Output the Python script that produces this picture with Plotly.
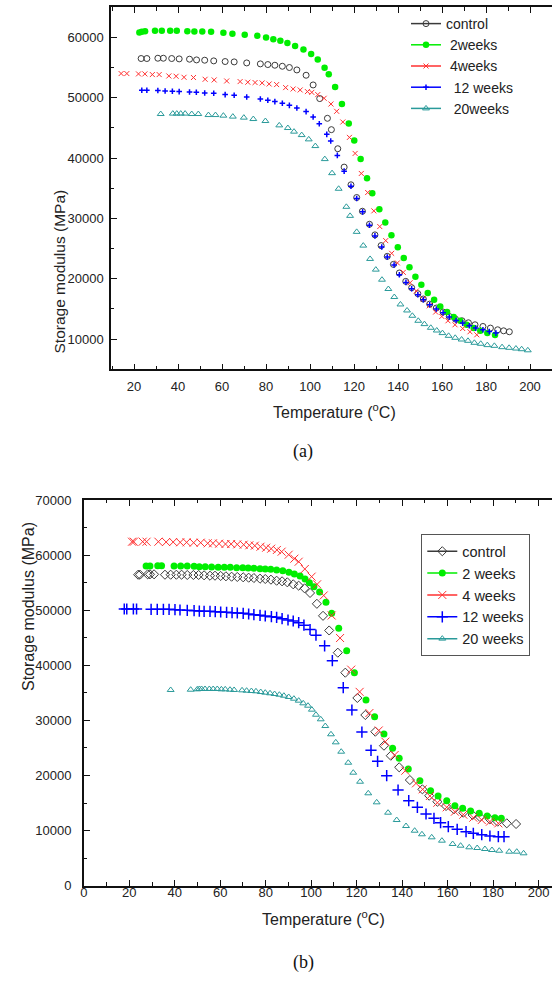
import plotly.graph_objects as go

# ---------------- Panel (a) data ----------------
a_control_T = [23.2, 25.8, 30.8, 33.3, 37.1, 40.5, 45.2, 48.4, 52.1, 56.2, 61.4, 65.5, 71.2, 77.4, 80.8, 84.0, 87.4, 90.6, 94.0, 98.2, 101.4, 104.4, 107.9, 109.7, 112.6, 115.5, 118.6, 121.2, 123.8, 127.0, 129.5, 132.3, 135.1, 137.9, 140.6, 143.5, 146.2, 149.0, 151.5, 154.4, 157.4, 160.5, 163.3, 166.1, 169.1, 172.0, 175.0, 178.6, 182.0, 185.3, 188.0, 190.6]
a_control_E = [56510, 56510, 56560, 56560, 56510, 56450, 56400, 56280, 56230, 56120, 56010, 55950, 55780, 55620, 55510, 55400, 55230, 55020, 54620, 53740, 52130, 49870, 46600, 44720, 41560, 38510, 35580, 33470, 31200, 29040, 27280, 25500, 23720, 22390, 20960, 19570, 18520, 17530, 16650, 15810, 15150, 14490, 13760, 13330, 13040, 12710, 12380, 12100, 11830, 11550, 11380, 11220]

a_w2_T = [22.4, 23.5, 25.0, 29.5, 32.6, 36.4, 39.4, 44.2, 47.4, 51.0, 55.0, 60.6, 64.7, 70.3, 76.0, 80.0, 83.3, 86.5, 89.7, 93.2, 97.0, 100.5, 103.5, 106.6, 108.5, 111.4, 114.5, 117.6, 120.1, 123.0, 125.9, 128.3, 131.5, 134.2, 137.0, 139.9, 142.6, 145.2, 147.9, 150.6, 153.5, 156.4, 159.2, 162.3, 165.3, 168.3, 171.2, 174.4, 177.4, 180.6, 184.1]
a_w2_E = [60830, 60930, 61050, 61100, 61100, 61100, 61100, 61050, 61000, 61000, 60930, 60770, 60600, 60430, 60270, 60000, 59720, 59440, 59100, 58600, 58000, 57280, 56350, 55000, 53900, 51800, 48970, 45760, 42940, 39840, 36680, 34190, 31530, 29320, 27210, 25220, 23450, 21900, 20350, 19020, 17640, 16530, 15420, 14490, 13660, 13040, 12380, 11830, 11380, 11000, 10670]

a_w4_T = [14.1, 16.7, 22.0, 24.9, 28.3, 31.4, 35.8, 39.1, 42.7, 47.0, 52.3, 56.4, 62.1, 68.2, 71.7, 75.0, 78.2, 81.4, 84.8, 88.9, 92.3, 95.5, 98.8, 100.8, 103.5, 106.4, 109.5, 112.1, 114.9, 117.9, 120.5, 123.3, 126.2, 129.0, 131.7, 134.4, 137.1, 139.7, 142.4, 145.5, 148.3, 151.4, 154.2, 157.1, 159.9, 162.7, 165.9, 169.4, 172.7, 175.8]
a_w4_E = [54020, 54020, 53960, 53960, 53850, 53850, 53620, 53570, 53400, 53360, 53070, 52960, 52790, 52690, 52580, 52530, 52460, 52290, 52190, 51690, 51460, 51300, 51030, 50900, 50530, 49920, 48970, 47760, 45990, 43440, 40780, 37460, 34300, 31260, 28660, 26330, 24220, 22630, 21070, 19350, 17970, 16650, 15530, 14490, 13760, 13040, 12380, 11760, 11220, 10720]

a_w12_T = [23.5, 25.8, 30.8, 34.1, 37.4, 40.5, 45.2, 48.3, 52.1, 56.2, 61.4, 65.5, 71.2, 77.4, 80.8, 84.0, 87.4, 90.6, 94.0, 98.2, 101.4, 104.2, 107.6, 109.4, 112.4, 115.5, 118.6, 121.2, 123.9, 127.0, 129.5, 132.6, 135.1, 138.2, 140.6, 143.6, 146.2, 149.0, 151.5, 154.4, 157.4, 160.5, 163.3, 166.4, 169.4, 172.4, 175.3, 178.6, 181.5, 184.5]
a_w12_E = [51250, 51250, 51200, 51130, 51080, 51030, 50960, 50910, 50800, 50750, 50530, 50420, 50140, 49800, 49590, 49370, 49090, 48750, 48310, 47710, 46810, 45710, 43940, 42830, 40450, 37840, 35350, 33310, 31100, 28870, 27110, 25280, 23620, 22290, 20680, 19400, 18360, 17360, 16530, 15700, 14990, 14370, 13660, 13100, 12660, 12220, 11830, 11550, 11270, 11000]

a_w20_T = [32.1, 37.6, 39.4, 41.2, 43.2, 46.2, 49.2, 53.8, 57.0, 60.6, 64.9, 69.9, 74.2, 79.7, 86.0, 89.9, 92.7, 96.2, 99.4, 102.4, 106.7, 110.0, 113.0, 116.5, 118.2, 121.2, 124.2, 127.3, 129.9, 132.7, 135.6, 138.3, 141.1, 144.1, 146.5, 149.2, 152.0, 154.9, 157.6, 160.2, 163.0, 166.0, 168.9, 171.8, 174.7, 177.6, 180.6, 183.8, 187.3, 190.5, 193.6, 196.2, 199.0]
a_w20_E = [47310, 47380, 47380, 47380, 47380, 47310, 47310, 47140, 47140, 47040, 46880, 46710, 46480, 46150, 45430, 44990, 44390, 43820, 43110, 42000, 39840, 37510, 34920, 31930, 30430, 27780, 25500, 23290, 21520, 19850, 18310, 16980, 15750, 14750, 13870, 13040, 12490, 11880, 11430, 11000, 10550, 10220, 9940, 9720, 9390, 9230, 9010, 8890, 8670, 8560, 8440, 8330, 8150]

# ---------------- Panel (b) data ----------------
b_control_T = [23.9, 24.7, 28.1, 29.1, 30.9, 35.7, 38.2, 40.7, 43.0, 45.5, 48.2, 50.5, 52.9, 55.5, 57.7, 60.2, 62.5, 65.0, 67.5, 70.1, 72.5, 74.8, 77.5, 79.8, 82.3, 84.8, 87.2, 89.5, 92.1, 94.5, 97.1, 99.5, 102.5, 105.2, 107.9, 111.7, 115.0, 120.3, 123.8, 128.2, 132.0, 135.0, 138.7, 143.4, 148.9, 151.9, 155.5, 159.3, 162.8, 166.9, 171.0, 174.2, 178.6, 182.0, 186.0, 190.1]
b_control_E = [56440, 56440, 56510, 56510, 56510, 56440, 56440, 56440, 56440, 56390, 56390, 56390, 56330, 56260, 56260, 56210, 56150, 56080, 56030, 55970, 55900, 55840, 55720, 55660, 55540, 55350, 55240, 55060, 54700, 54450, 53970, 53130, 51160, 48980, 46320, 42290, 38660, 34070, 30980, 27950, 25410, 23590, 21490, 19180, 17490, 16330, 15240, 14460, 13870, 13250, 12830, 12470, 12050, 11620, 11320, 11200]

b_w2_T = [27.4, 29.1, 32.5, 34.2, 39.7, 42.6, 45.5, 48.5, 50.8, 53.4, 56.2, 59.1, 61.8, 64.4, 67.2, 69.9, 72.3, 74.8, 77.5, 79.8, 82.2, 84.8, 87.5, 90.2, 92.6, 95.1, 97.3, 99.2, 101.2, 103.7, 106.5, 109.0, 112.1, 115.6, 119.0, 124.1, 127.9, 132.0, 135.8, 138.7, 142.7, 147.8, 152.5, 155.8, 159.6, 163.2, 166.6, 170.1, 173.9, 177.4, 180.8, 183.6]
b_w2_E = [58020, 58020, 58080, 58080, 58020, 58020, 58020, 57960, 57890, 57890, 57840, 57780, 57780, 57780, 57710, 57710, 57660, 57600, 57530, 57480, 57420, 57300, 57170, 56880, 56570, 56210, 55660, 54990, 54260, 53300, 51460, 49440, 46710, 42660, 38660, 33700, 30670, 27530, 24930, 23120, 21180, 19060, 17240, 16280, 15430, 14520, 14050, 13560, 13140, 12650, 12340, 12230]

b_w4_T = [21.2, 22.0, 25.9, 27.6, 32.8, 36.2, 39.3, 42.4, 45.2, 48.3, 51.4, 54.5, 56.8, 59.5, 62.3, 64.8, 67.5, 70.3, 72.8, 75.2, 77.7, 80.2, 82.4, 84.9, 87.0, 90.1, 92.6, 94.5, 97.2, 100.2, 102.6, 105.5, 109.0, 112.7, 117.6, 121.3, 125.6, 129.7, 132.6, 136.7, 141.4, 146.1, 149.0, 152.2, 155.5, 159.6, 163.2, 166.9, 171.3, 175.0, 178.6, 182.3]
b_w4_E = [62430, 62430, 62430, 62430, 62430, 62370, 62370, 62320, 62320, 62250, 62250, 62140, 62140, 62070, 62010, 62010, 61950, 61890, 61780, 61710, 61520, 61340, 61160, 60930, 60620, 60070, 59350, 58800, 57480, 56090, 54700, 52670, 49040, 44950, 39210, 35180, 31340, 28170, 26140, 23720, 20870, 18580, 17490, 16280, 15060, 14230, 13430, 12890, 12340, 11920, 11620, 11320]

b_w12_T = [17.8, 18.9, 21.8, 23.2, 29.6, 32.3, 35.0, 37.5, 40.1, 42.3, 45.5, 48.5, 50.8, 52.9, 55.5, 57.8, 60.2, 62.8, 65.2, 67.5, 70.1, 72.5, 74.8, 77.5, 79.8, 82.5, 84.8, 87.2, 89.8, 92.1, 94.5, 96.8, 99.5, 102.1, 105.9, 109.3, 114.1, 117.9, 122.3, 126.3, 129.2, 133.2, 138.2, 142.9, 146.7, 150.5, 154.0, 156.9, 160.3, 164.2, 168.1, 171.3, 175.0, 178.6, 182.3, 184.8]
b_w12_E = [50220, 50220, 50220, 50220, 50160, 50160, 50160, 50160, 50090, 50040, 49980, 49910, 49850, 49800, 49800, 49730, 49670, 49620, 49550, 49490, 49440, 49310, 49180, 49070, 48950, 48820, 48710, 48460, 48220, 48040, 47730, 47280, 46500, 45470, 43530, 40840, 35940, 31890, 27890, 24570, 22570, 19960, 17370, 15430, 14230, 13010, 12230, 11430, 10710, 10240, 9800, 9510, 9260, 9020, 8890, 8890]

b_w20_T = [38.2, 47.0, 49.9, 50.8, 51.8, 53.3, 55.2, 56.9, 58.7, 60.5, 62.2, 64.3, 66.1, 69.6, 71.6, 73.7, 75.7, 77.8, 79.8, 81.9, 83.9, 86.0, 88.0, 90.1, 92.4, 94.5, 96.5, 98.6, 100.3, 102.1, 104.2, 106.2, 108.7, 110.8, 113.2, 116.3, 118.5, 121.5, 125.1, 128.8, 133.8, 137.6, 141.7, 145.5, 148.7, 153.0, 157.5, 162.2, 165.7, 169.5, 173.0, 176.4, 179.5, 182.7, 187.1, 190.4, 193.4]
b_w20_E = [35520, 35570, 35640, 35700, 35700, 35700, 35700, 35700, 35700, 35640, 35640, 35570, 35520, 35460, 35390, 35330, 35280, 35150, 35030, 34920, 34790, 34660, 34480, 34250, 33940, 33580, 33100, 32670, 31950, 31030, 30200, 28980, 27480, 26020, 24320, 22320, 20510, 18870, 16770, 15130, 13250, 11920, 10830, 9980, 9330, 8780, 8170, 7570, 7260, 6970, 6840, 6660, 6480, 6350, 6170, 6170, 5880]

a_names = ["control", "\u00a02weeks", "\u00a04weeks", "\u00a0\u00a012 weeks", "\u00a0\u00a020weeks"]
b_names = ["control", "2 weeks", "4 weeks", "12 weeks", "20 weeks"]

BLACK = "#3a3a3a"
GREEN = "#00ee00"
RED = "#ff3030"
BLUE = "#0000ff"
TEAL = "#2a9a9a"

a_styles = [
    dict(symbol="circle-open", size=6, color=BLACK, line=dict(width=1, color=BLACK)),
    dict(symbol="circle", size=6.5, color=GREEN, line=dict(width=0)),
    dict(symbol="x-thin-open", size=5, color=RED, line=dict(width=1, color=RED)),
    dict(symbol="cross-thin-open", size=4, color=BLUE, line=dict(width=1.5, color=BLUE)),
    dict(symbol="triangle-up-open", size=6, color=TEAL, line=dict(width=1, color=TEAL)),
]
b_styles = [
    dict(symbol="diamond-open", size=7, color=BLACK, line=dict(width=1, color=BLACK)),
    dict(symbol="circle", size=7, color=GREEN, line=dict(width=0)),
    dict(symbol="x-thin-open", size=8, color=RED, line=dict(width=1, color=RED)),
    dict(symbol="cross-thin-open", size=8, color=BLUE, line=dict(width=1.5, color=BLUE)),
    dict(symbol="triangle-up-open", size=6, color=TEAL, line=dict(width=1, color=TEAL)),
]
a_colors = [BLACK, GREEN, RED, BLUE, TEAL]

a_series = [(a_control_T, a_control_E), (a_w2_T, a_w2_E), (a_w4_T, a_w4_E), (a_w12_T, a_w12_E), (a_w20_T, a_w20_E)]
b_series = [(b_control_T, b_control_E), (b_w2_T, b_w2_E), (b_w4_T, b_w4_E), (b_w12_T, b_w12_E), (b_w20_T, b_w20_E)]

fig = go.Figure()

for (T, E), st in zip(a_series, a_styles):
    fig.add_trace(go.Scatter(x=T, y=E, mode="markers", marker=st, showlegend=False,
                             xaxis="x", yaxis="y"))
for (T, E), st in zip(b_series, b_styles):
    fig.add_trace(go.Scatter(x=T, y=E, mode="markers", marker=st, showlegend=False,
                             xaxis="x2", yaxis="y2"))
# legend entries (line - marker - line)
for name, st, c in zip(a_names, a_styles, a_colors):
    fig.add_trace(go.Scatter(x=[None], y=[None], mode="lines+markers", name=name, marker=st,
                             line=dict(color=c, width=1.5), xaxis="x", yaxis="y", legend="legend"))
for name, st, c in zip(b_names, b_styles, a_colors):
    fig.add_trace(go.Scatter(x=[None], y=[None], mode="lines+markers", name=name, marker=st,
                             line=dict(color=c, width=1.5), xaxis="x2", yaxis="y2", legend="legend2"))

W, H = 552, 985
FONT = "Liberation Sans, Arial, sans-serif"

def ax(**kw):
    base = dict(showline=True, linecolor="#111", linewidth=1.5, ticks="inside", ticklen=6,
                tickwidth=1.3, tickcolor="#111", showgrid=False, zeroline=False,
                automargin=False, tickformat="d",
                tickfont=dict(family=FONT, size=13, color="#222"),
                minor=dict(ticks="inside", ticklen=3.5, tickwidth=1.2, tickcolor="#111", showgrid=False))
    base.update(kw)
    return base

fig.update_layout(
    width=W, height=H, margin=dict(l=0, r=0, t=0, b=0, autoexpand=False),
    paper_bgcolor="white", plot_bgcolor="white",
    xaxis=ax(domain=[111 / W, 1.0], range=[9.5, 210], tick0=0, dtick=20, mirror="ticks",
             minor_dtick=10, anchor="y", ticklabelstandoff=4),
    yaxis=ax(domain=[(H - 369.3) / H, (H - 7.3) / H], range=[5000, 65000], tick0=0, dtick=10000,
             minor_dtick=5000, anchor="x", ticklabelstandoff=3),
    xaxis2=ax(domain=[83.8 / W, 1.0], range=[0, 205.9], tick0=0, dtick=20, mirror="ticks",
              minor_dtick=10, anchor="y2", ticklabelstandoff=-6),
    yaxis2=ax(domain=[(H - 885.7) / H, (H - 500) / H], range=[0, 70000], tick0=0, dtick=10000,
              minor_dtick=5000, anchor="x2", ticklabelstandoff=8),
    legend=dict(x=406 / W, y=1 - 8 / H, xanchor="left", yanchor="top", bgcolor="rgba(0,0,0,0)",
                borderwidth=0, font=dict(family=FONT, size=14, color="#222"), tracegroupgap=0,
                itemclick=False),
    legend2=dict(x=421 / W, y=1 - 534 / H, xanchor="left", yanchor="top", bgcolor="white",
                 bordercolor="#555", borderwidth=1.3, font=dict(family=FONT, size=14.5, color="#222"),
                 tracegroupgap=0, itemclick=False),
    annotations=[
        dict(text="Storage modulus (MPa)", x=48 / W, y=1 - 188 / H, xref="paper", yref="paper",
             textangle=-90, showarrow=False, font=dict(family=FONT, size=15.5, color="#222")),
        dict(text="Temperature (<sup>o</sup>C)", x=334 / W, y=1 - 411 / H, xref="paper", yref="paper",
             showarrow=False, font=dict(family=FONT, size=16, color="#222")),
        dict(text="(a)", x=303 / W, y=1 - 452 / H, xref="paper", yref="paper",
             showarrow=False, font=dict(family="Liberation Serif, Times New Roman, serif", size=18, color="#111")),
        dict(text="Storage modulus (MPa)", x=18 / W, y=1 - 693 / H, xref="paper", yref="paper",
             textangle=-90, showarrow=False, font=dict(family=FONT, size=16, color="#222")),
        dict(text="Temperature (<sup>o</sup>C)", x=323 / W, y=1 - 930 / H, xref="paper", yref="paper",
             showarrow=False, font=dict(family=FONT, size=16, color="#222")),
        dict(text="(b)", x=303 / W, y=1 - 975 / H, xref="paper", yref="paper",
             showarrow=False, font=dict(family="Liberation Serif, Times New Roman, serif", size=18, color="#111")),
    ],
)

fig.write_html("out.html", config={"displayModeBar": False},
               post_script="document.body.style.margin='0px';document.body.style.overflow='hidden';")
